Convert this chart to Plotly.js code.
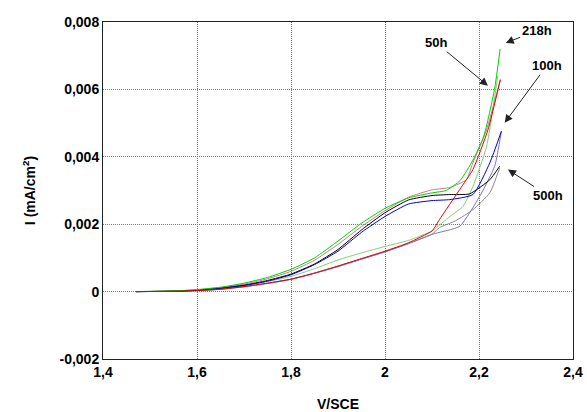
<!DOCTYPE html>
<html>
<head>
<meta charset="utf-8">
<script src="https://cdn.plot.ly/plotly-3.0.1.min.js"></script>
<style>html,body{margin:0;padding:0;background:#fff;}#chart{width:587px;height:412px;}</style>
</head>
<body>
<div id="chart"></div>
<script>
// 218h (green)
const V_218_up = [1.47,1.55,1.6,1.65,1.7,1.75,1.8,1.85,1.9,1.95,2.0,2.05,2.1,2.13,2.16,2.187,2.21,2.233,2.245];
const I_218_up = [0,0.00002,0.00006,0.00013,0.00025,0.00042,0.00066,0.001,0.0015,0.00203,0.00247,0.00278,0.00293,0.003,0.0033,0.0039,0.0046,0.006,0.0072];
const V_218_lo = [1.47,1.55,1.6,1.65,1.7,1.75,1.8,1.85,1.9,1.95,2.0,2.05,2.1,2.138,2.166,2.187,2.216,2.24];
const I_218_lo = [0,0.00001,0.00004,0.00009,0.00018,0.0003,0.00045,0.00068,0.00094,0.00115,0.00134,0.00152,0.0018,0.00223,0.00253,0.00312,0.0043,0.0064];
// 50h (red)
const V_50_up = [1.47,1.55,1.6,1.65,1.7,1.75,1.8,1.85,1.9,1.95,2.0,2.05,2.1,2.138,2.173,2.187,2.216,2.2455];
const I_50_up = [0,0.00002,0.00005,0.00012,0.00022,0.00038,0.0006,0.00093,0.0014,0.00193,0.0024,0.0028,0.00302,0.00309,0.00332,0.00382,0.0048,0.00629];
const V_50_lo = [1.47,1.55,1.6,1.65,1.7,1.75,1.8,1.85,1.9,1.95,2.0,2.05,2.1,2.116,2.159,2.187,2.219,2.2455];
const I_50_lo = [0,0.00001,0.00003,0.00007,0.00015,0.00025,0.00037,0.00055,0.00076,0.00098,0.0012,0.00145,0.0018,0.00214,0.00303,0.00362,0.0048,0.00629];
// 500h (black)
const V_500_up = [1.47,1.55,1.6,1.65,1.7,1.75,1.8,1.85,1.9,1.95,2.0,2.05,2.1,2.138,2.18,2.223,2.244];
const I_500_up = [0,0.00001,0.00004,0.0001,0.00019,0.00033,0.00052,0.00082,0.00125,0.00183,0.00234,0.00272,0.00285,0.00288,0.0029,0.00332,0.00372];
const V_500_lo = [1.47,1.55,1.6,1.65,1.7,1.75,1.8,1.85,1.9,1.95,2.0,2.05,2.1,2.116,2.15,2.187,2.223,2.244];
const I_500_lo = [0,0.00001,0.00003,0.00007,0.00015,0.00025,0.00037,0.00055,0.00075,0.00097,0.00118,0.00143,0.0017,0.0019,0.0021,0.00243,0.00293,0.00367];
// 100h (blue)
const V_100_up = [1.47,1.55,1.6,1.65,1.7,1.75,1.8,1.85,1.9,1.95,2.0,2.05,2.1,2.138,2.187,2.223,2.2477];
const I_100_up = [0,0.00001,0.00004,0.0001,0.00018,0.00031,0.0005,0.0008,0.0012,0.00176,0.00223,0.0026,0.0027,0.00273,0.00288,0.00382,0.00476];
const V_100_lo = [1.47,1.55,1.6,1.65,1.7,1.75,1.8,1.85,1.9,1.95,2.0,2.05,2.1,2.159,2.2015,2.2334,2.2477];
const I_100_lo = [0,0.00001,0.00003,0.00007,0.00014,0.00024,0.00036,0.00054,0.00074,0.00096,0.00118,0.00142,0.0017,0.00194,0.00283,0.00372,0.00476];

const xTickVals = [1.4,1.6,1.8,2.0,2.2,2.4];
const xTickText = ['1,4','1,6','1,8','2','2,2','2,4'];
const yTickVals = [-0.002,0,0.002,0.004,0.006,0.008];
const yTickText = ['-0,002','0','0,002','0,004','0,006','0,008'];

const labels = ['218h','50h','100h','500h'];
const arrowHeadV = [2.2568,2.219,2.2547,2.2617];
const arrowHeadI = [0.00738,0.00611,0.00501,0.00362];

function tr(x,y,color,name){
  return {x:x,y:y,type:'scatter',mode:'lines',name:name,line:{color:color,width:1,shape:'spline',smoothing:0.5},showlegend:false,hoverinfo:'skip'};
}
const data = [
  tr(V_500_lo,I_500_lo,'#8a8a8a','500h'),
  tr(V_100_lo,I_100_lo,'#7878c0','100h'),
  tr(V_218_lo,I_218_lo,'#7fcf7f','218h'),
  tr(V_50_up,I_50_up,'#c08080','50h'),
  tr(V_500_up,I_500_up,'#000000','500h'),
  tr(V_100_up,I_100_up,'#0000cc','100h'),
  tr(V_218_up,I_218_up,'#00d000','218h'),
  tr(V_50_lo,I_50_lo,'#e00000','50h')
];

const offs = [[31,-12],[-52,-43],[42,-57],[40,26]];
const annotations = labels.map((t,i)=>({
  x:arrowHeadV[i], y:arrowHeadI[i], xref:'x', yref:'y',
  text:t, showarrow:true, ax:offs[i][0], ay:offs[i][1],
  arrowhead:2, arrowsize:1.6, arrowwidth:1, arrowcolor:'#222',
  font:{family:'Liberation Sans, Arial, sans-serif', size:13, color:'#000', weight:'bold'}
}));

const fontB = {family:'Liberation Sans, Arial, sans-serif', size:14, color:'#000', weight:'bold'};
const layout = {
  width:587, height:412,
  margin:{l:103, r:14, t:22, b:53},
  paper_bgcolor:'#fff', plot_bgcolor:'#fff',
  showlegend:false,
  xaxis:{range:[1.4,2.4], tickvals:xTickVals, ticktext:xTickText, tickfont:fontB,
    showgrid:true, gridcolor:'#777', griddash:'1px,1px', gridwidth:1,
    showline:true, linecolor:'#222', linewidth:1, mirror:true, zeroline:false, ticks:'',
    title:{text:'V/SCE', font:fontB, standoff:24}, automargin:false},
  yaxis:{range:[-0.002,0.008], tickvals:yTickVals, ticktext:yTickText, tickfont:fontB,
    showgrid:true, gridcolor:'#777', griddash:'1px,1px', gridwidth:1,
    showline:true, linecolor:'#222', linewidth:1, mirror:true, zeroline:false, ticks:'',
    title:{text:'I (mA/cm<sup>2</sup>)', font:fontB, standoff:20}, automargin:false},
  annotations:annotations
};
Plotly.newPlot('chart', data, layout, {staticPlot:true, displayModeBar:false});
</script>
</body>
</html>
